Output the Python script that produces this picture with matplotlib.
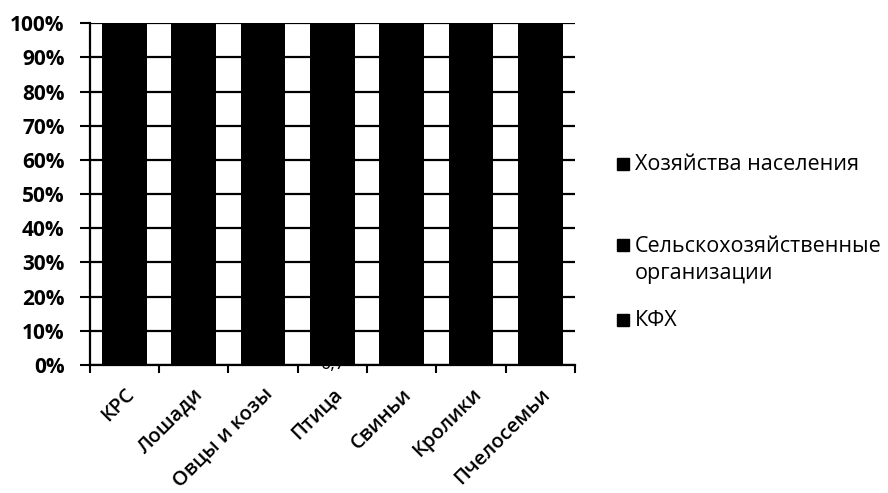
import matplotlib.pyplot as plt
import numpy as np
from matplotlib.patches import Rectangle

plt.rcParams['font.family'] = ['Open Sans', 'DejaVu Sans']

categories = ["КРС", "Лошади", "Овцы и козы", "Птица", "Свиньи", "Кролики", "Пчелосемьи"]
series_names = ["КФХ", "Сельскохозяйственные\nорганизации", "Хозяйства населения"]
kfh = [12.0, 15.0, 25.0, 0.7, 3.0, 5.0, 8.0]
sho = [45.0, 20.0, 10.0, 85.0, 60.0, 15.0, 10.0]
hn = [43.0, 65.0, 65.0, 14.3, 37.0, 80.0, 82.0]
yticks = [0, 10, 20, 30, 40, 50, 60, 70, 80, 90, 100]

data = np.array([kfh, sho, hn])
shares = data / data.sum(axis=0) * 100

fig = plt.figure(figsize=(8.88, 4.93), dpi=100)
ax = fig.add_axes([0.101, 0.2596, 0.5465, 0.6934])

x = np.arange(len(categories))
bottom = np.zeros(len(categories))
for vals in shares:
    ax.bar(x, vals, 0.64, bottom=bottom, color='black', zorder=2)
    bottom += vals

# data label partly visible under the bar
ax.text(3, shares[0][3] / 2, "0,7", ha='center', va='center', fontsize=13,
        color='black', zorder=1, clip_on=False)

ax.set_xlim(-0.5, len(categories) - 0.5)
ax.set_ylim(0, 100)
ax.set_yticks(yticks)
ax.set_yticklabels([f"{v}%" for v in yticks], fontsize=15, fontweight='bold')
ax.yaxis.grid(True, color='black', linewidth=1.6, zorder=0)
ax.set_axisbelow(True)

ax.set_xticks(x)
ax.set_xticklabels(categories, rotation=45, ha='right', va='top',
                   rotation_mode='anchor', fontsize=14.5, fontweight='semibold')
ax.set_xticks(np.arange(len(categories) + 1) - 0.5, minor=True)
ax.tick_params(axis='x', which='major', length=0, pad=14)
ax.tick_params(axis='x', which='minor', length=6, width=1.5, color='black')
ax.tick_params(axis='y', length=7, width=1.5, pad=11)

for s in ['top', 'right']:
    ax.spines[s].set_visible(False)
for s in ['left', 'bottom']:
    ax.spines[s].set_linewidth(1.6)

# legend entries (Excel-style, reverse order)
text_y = [164, 260, 320]
mark_y = [164, 245, 320]
for name, ty, my in zip(series_names[::-1], text_y, mark_y):
    fig.patches.append(Rectangle((617 / 888, 1 - (my + 6) / 493), 12 / 888, 12 / 493,
                                 transform=fig.transFigure, color='black'))
    fig.text(635 / 888, 1 - ty / 493, name, fontsize=15.5, va='center',
             linespacing=1.4)

fig.savefig("out.png", dpi=100)
